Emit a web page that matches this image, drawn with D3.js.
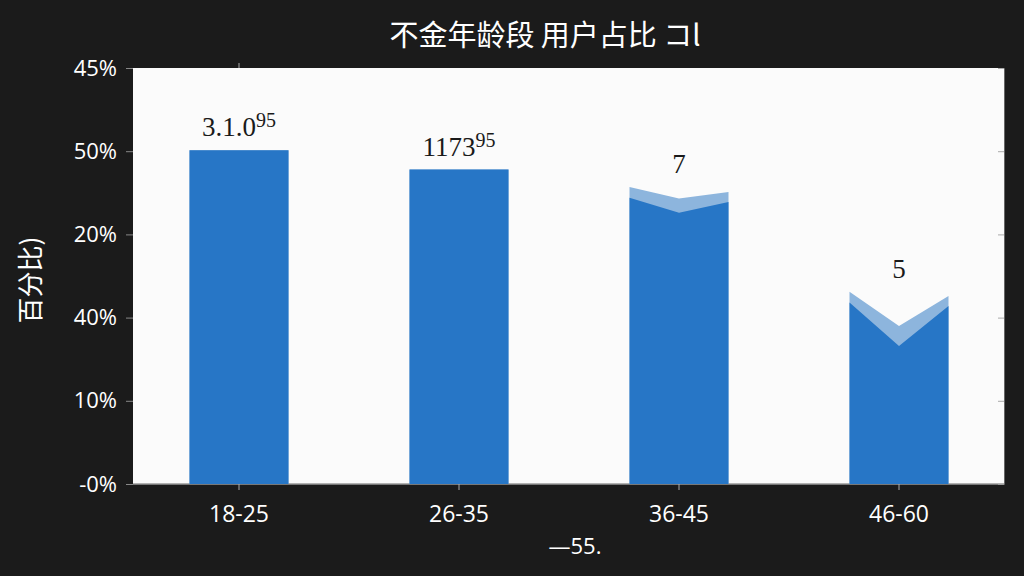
<!DOCTYPE html>
<html>
<head>
<meta charset="utf-8">
<script src="https://cdn.jsdelivr.net/npm/d3@7"></script>
<style>
  html, body { margin: 0; padding: 0; background: #1b1b1b; }
  svg { display: block; }
</style>
</head>
<body>
<div id="chart"></div>
<script>
// datos
const categories = ["18-25", "26-35", "36-45", "46-60"];
// borde superior de la parte oscura: izquierda, centro, derecha
const darkLeft  = [40.1, 37.8, 34.4, 21.8];
const darkMid   = [40.1, 37.8, 32.6, 16.6];
const darkRight = [40.1, 37.8, 33.9, 21.4];
// borde superior de la franja clara
const lightLeft  = [40.1, 37.8, 35.7, 23.1];
const lightMid   = [40.1, 37.8, 34.3, 19.0];
const lightRight = [40.1, 37.8, 35.1, 22.6];
const barLabels = [["3.1.0", "95"], ["1173", "95"], ["7", ""], ["5", ""]];
const tickValues = [0, 10, 20, 30, 40, 50];
const tickLabels = ["-0%", "10%", "40%", "20%", "50%", "45%"];
const title = "不金年龄段 用户占比 コl";
const yTitle = "百分比)";
const xNote = "—55.";

const W = 1024, H = 576;
const margin = {top: 68, right: 20, bottom: 92, left: 133};

const svg = d3.select("#chart").append("svg")
    .attr("width", W)
    .attr("height", H);

const x = d3.scaleBand()
    .domain(categories)
    .range([129, 1009])
    .paddingInner(0.55)
    .paddingOuter(0.275);

const y = d3.scaleLinear()
    .domain([0, 50])
    .range([H - margin.bottom, margin.top]);

// area del grafico
svg.append("rect")
    .attr("x", margin.left)
    .attr("y", margin.top)
    .attr("width", W - margin.right - margin.left)
    .attr("height", H - margin.bottom - margin.top)
    .attr("fill", "#fbfbfb");

// ejes
const yAxis = svg.append("g")
    .attr("transform", "translate(" + margin.left + ",0)")
    .call(d3.axisLeft(y).tickValues(tickValues).tickSize(7).tickPadding(9)
        .tickFormat((d, i) => tickLabels[i]));
yAxis.select(".domain").remove();
yAxis.selectAll("line").attr("stroke", "#888");
yAxis.selectAll("text")
    .attr("fill", "#fff")
    .attr("font-family", "'Open Sans', 'DejaVu Sans', sans-serif")
    .attr("font-size", 22);

const yRight = svg.append("g")
    .attr("transform", "translate(" + (W - margin.right) + ",0)")
    .call(d3.axisLeft(y).tickValues(tickValues).tickSize(6).tickFormat(""));
yRight.select(".domain").attr("stroke", "#666");
yRight.selectAll("line").attr("stroke", "#aaa");

const xAxis = svg.append("g")
    .attr("transform", "translate(0," + (H - margin.bottom) + ")")
    .call(d3.axisBottom(x).tickSize(6).tickPadding(12).tickSizeOuter(0));
xAxis.select(".domain").attr("stroke", "#999").attr("stroke-width", 1.5)
    .attr("d", "M" + margin.left + ",0H" + (W - margin.right));
xAxis.selectAll("line").attr("stroke", "#aaa");
xAxis.selectAll("text")
    .attr("fill", "#fff")
    .attr("font-family", "'Open Sans', 'DejaVu Sans', sans-serif")
    .attr("font-size", 23)
    .attr("dy", "0.85em");

// marca superior
svg.append("line")
    .attr("x1", x(categories[0]) + x.bandwidth() / 2)
    .attr("x2", x(categories[0]) + x.bandwidth() / 2)
    .attr("y1", margin.top).attr("y2", margin.top - 5)
    .attr("stroke", "#aaa");

// barras con muesca
function barPath(i, left, mid, right, base) {
  const x0 = x(categories[i]), x1 = x0 + x.bandwidth(), xm = x0 + x.bandwidth() / 2;
  return "M" + x0 + "," + base +
    "L" + x0 + "," + y(left[i]) +
    "L" + xm + "," + y(mid[i]) +
    "L" + x1 + "," + y(right[i]) +
    "L" + x1 + "," + base + "Z";
}

svg.selectAll(".light")
  .data(categories)
  .enter().append("path")
    .attr("class", "light")
    .attr("d", (d, i) => barPath(i, lightLeft, lightMid, lightRight, y(0)))
    .attr("fill", "#8db5dd");

svg.selectAll(".dark")
  .data(categories)
  .enter().append("path")
    .attr("class", "dark")
    .attr("d", (d, i) => barPath(i, darkLeft, darkMid, darkRight, y(0)))
    .attr("fill", "#2776c6");

// etiquetas de las barras
const lbl = svg.selectAll(".lbl")
  .data(categories)
  .enter().append("text")
    .attr("class", "lbl")
    .attr("x", d => x(d) + x.bandwidth() / 2)
    .attr("y", (d, i) => y(lightLeft[i]) - 14)
    .attr("text-anchor", "middle")
    .attr("font-family", "'Liberation Serif', 'DejaVu Serif', serif")
    .attr("font-size", 27)
    .attr("fill", "#1a1a1a");
lbl.each(function(d, i) {
  const t = d3.select(this);
  const parts = barLabels[i];
  t.append("tspan").text(parts[0]);
  if (parts[1]) t.append("tspan").attr("font-size", 20).attr("dy", -9).text(parts[1]);
});

// titulos
svg.append("text")
    .attr("x", 545).attr("y", 46)
    .attr("text-anchor", "middle")
    .attr("font-family", "'Noto Sans CJK SC', sans-serif")
    .attr("font-size", 29)
    .attr("fill", "#fff")
    .text(title);

svg.append("text")
    .attr("transform", "translate(40,280) rotate(-90)")
    .attr("text-anchor", "middle")
    .attr("font-family", "'Noto Sans CJK SC', sans-serif")
    .attr("font-size", 26)
    .attr("fill", "#fff")
    .text(yTitle);

svg.append("text")
    .attr("x", 575).attr("y", 554)
    .attr("text-anchor", "middle")
    .attr("font-family", "'Open Sans', 'DejaVu Sans', sans-serif")
    .attr("font-size", 22)
    .attr("fill", "#fff")
    .text(xNote);
</script>
</body>
</html>
